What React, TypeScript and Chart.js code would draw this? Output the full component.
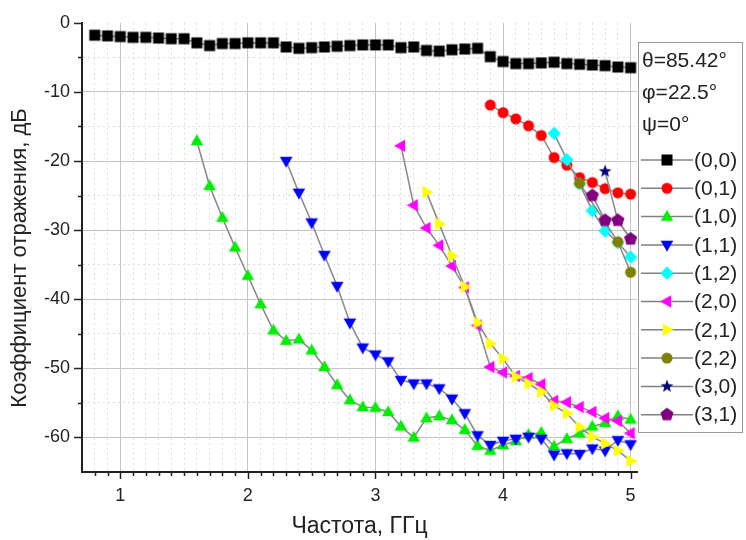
import React, { useEffect, useRef } from 'react';
import { Chart, registerables } from 'chart.js';
Chart.register(...registerables);

// ---------- data ----------
const f00 = [0.8, 0.9, 1.0, 1.1, 1.2, 1.3, 1.4, 1.5, 1.6, 1.7, 1.8, 1.9, 2.0, 2.1, 2.2, 2.3, 2.4, 2.5, 2.6, 2.7, 2.8, 2.9, 3.0, 3.1, 3.2, 3.3, 3.4, 3.5, 3.6, 3.7, 3.8, 3.9, 4.0, 4.1, 4.2, 4.3, 4.4, 4.5, 4.6, 4.7, 4.8, 4.9, 5.0];
const s00 = [-1.8, -1.9, -2.0, -2.1, -2.1, -2.2, -2.3, -2.3, -2.9, -3.3, -3.0, -3.0, -2.9, -2.9, -2.9, -3.5, -3.7, -3.6, -3.5, -3.4, -3.3, -3.2, -3.2, -3.2, -3.6, -3.5, -4.0, -4.1, -3.9, -3.8, -3.7, -4.9, -5.6, -5.9, -5.9, -5.8, -5.7, -5.9, -6.0, -6.1, -6.2, -6.4, -6.5];

const f01 = [3.9, 4.0, 4.1, 4.2, 4.3, 4.4, 4.5, 4.6, 4.7, 4.8, 4.9, 5.0];
const s01 = [-11.9, -13.0, -13.9, -14.9, -16.3, -19.5, -20.6, -22.4, -23.1, -24.0, -24.6, -24.8];

const f10 = [1.6, 1.7, 1.8, 1.9, 2.0, 2.1, 2.2, 2.3, 2.4, 2.5, 2.6, 2.7, 2.8, 2.9, 3.0, 3.1, 3.2, 3.3, 3.4, 3.5, 3.6, 3.7, 3.8, 3.9, 4.0, 4.1, 4.2, 4.3, 4.4, 4.5, 4.6, 4.7, 4.8, 4.9, 5.0];
const s10 = [-17.1, -23.6, -28.2, -32.5, -36.6, -40.7, -44.5, -46.0, -45.8, -47.4, -49.8, -52.4, -54.6, -55.6, -55.7, -56.3, -58.4, -60.0, -57.2, -56.9, -57.5, -58.9, -61.2, -61.9, -61.1, -60.5, -59.6, -59.3, -61.3, -60.2, -59.4, -58.4, -57.9, -56.9, -57.4];

const f11 = [2.3, 2.4, 2.5, 2.6, 2.7, 2.8, 2.9, 3.0, 3.1, 3.2, 3.3, 3.4, 3.5, 3.6, 3.7, 3.8, 3.9, 4.0, 4.1, 4.2, 4.3, 4.4, 4.5, 4.6, 4.7, 4.8, 4.9, 5.0];
const s11 = [-20.0, -24.6, -28.9, -33.6, -38.1, -43.4, -47.0, -48.0, -49.0, -51.7, -52.2, -52.2, -52.9, -54.4, -56.5, -59.7, -61.1, -60.5, -60.2, -59.9, -60.2, -62.5, -62.3, -62.4, -61.6, -61.9, -60.4, -61.0];

const f12 = [4.4, 4.5, 4.6, 4.7, 4.8, 4.9, 5.0];
const s12 = [-16.0, -19.8, -23.3, -27.2, -30.1, -31.8, -33.9];

const f20 = [3.2, 3.3, 3.4, 3.5, 3.6, 3.7, 3.8, 3.9, 4.0, 4.1, 4.2, 4.3, 4.4, 4.5, 4.6, 4.7, 4.8, 4.9, 5.0];
const s20 = [-17.8, -26.4, -29.7, -32.2, -35.2, -38.3, -43.8, -49.8, -50.6, -51.1, -51.4, -52.3, -54.7, -54.9, -55.6, -56.3, -57.2, -57.6, -59.4];

const f21 = [3.4, 3.5, 3.6, 3.7, 3.8, 3.9, 4.0, 4.1, 4.2, 4.3, 4.4, 4.5, 4.6, 4.7, 4.8, 4.9, 5.0];
const s21 = [-24.5, -29.1, -33.7, -38.2, -43.4, -46.4, -48.6, -51.2, -52.2, -53.4, -55.4, -56.5, -58.5, -59.9, -60.9, -61.9, -63.4];

const f22 = [4.6, 4.9, 5.0];
const s22 = [-23.2, -31.7, -36.1];

const f30 = [4.8, 4.9, 5.0];
const s30 = [-21.5, -28.6, -31.3];

const f31 = [4.7, 4.8, 4.9, 5.0];
const s31 = [-25.0, -28.6, -28.6, -31.3];

const seriesLabels = ['(0,0)', '(0,1)', '(1,0)', '(1,1)', '(1,2)', '(2,0)', '(2,1)', '(2,2)', '(3,0)', '(3,1)'];
const seriesColors = ['#000000', '#ff0000', '#00ee00', '#0000ff', '#00ffff', '#ff00ff', '#ffff00', '#808000', '#000080', '#800080'];
const seriesMarkers = ['square', 'circle', 'triUp', 'triDown', 'diamond', 'triLeft', 'triRight', 'circle', 'star', 'pentagon'];
const legendHeader = ['θ=85.42°', 'φ=22.5°', 'ψ=0°'];

const xMajorTicks = [1, 2, 3, 4, 5];
const yMajorTicks = [0, -10, -20, -30, -40, -50, -60];
const xTitle = 'Частота, ГГц';
const yTitle = 'Коэффициент отражения, дБ';

const FONT = '"Liberation Sans", Arial, sans-serif';

function poly(g: CanvasRenderingContext2D, cx: number, cy: number, n: number, r: number, rotDeg: number) {
  for (let k = 0; k < n; k++) {
    const a = ((rotDeg + (k * 360) / n) * Math.PI) / 180;
    const px = cx + r * Math.sin(a);
    const py = cy - r * Math.cos(a);
    if (k === 0) g.moveTo(px, py);
    else g.lineTo(px, py);
  }
  g.closePath();
}

function makeMarker(kind: string, color: string): HTMLCanvasElement {
  const c = document.createElement('canvas');
  c.width = 18;
  c.height = 18;
  const g = c.getContext('2d')!;
  g.fillStyle = color;
  const cx = 9, cy = 9;
  g.beginPath();
  switch (kind) {
    case 'square': g.rect(cx - 5.5, cy - 5.5, 11, 11); break;
    case 'circle': g.arc(cx, cy, 5.5, 0, Math.PI * 2); break;
    case 'triUp': poly(g, cx, cy + 0.5, 3, 7.3, 0); break;
    case 'triDown': poly(g, cx, cy - 0.5, 3, 7.3, 180); break;
    case 'triLeft': poly(g, cx + 0.5, cy, 3, 7.3, 270); break;
    case 'triRight': poly(g, cx - 0.5, cy, 3, 7.3, 90); break;
    case 'diamond': poly(g, cx, cy, 4, 6.7, 0); break;
    case 'pentagon': poly(g, cx, cy, 5, 6.9, 0); break;
    case 'star': {
      for (let k = 0; k < 10; k++) {
        const a = (k * 36 * Math.PI) / 180;
        const r = k % 2 === 0 ? 6.8 : 2.8;
        const px = cx + r * Math.sin(a);
        const py = cy - r * Math.cos(a);
        if (k === 0) g.moveTo(px, py); else g.lineTo(px, py);
      }
      g.closePath();
      break;
    }
  }
  g.fill();
  return c;
}

export default function App() {
  const ref = useRef<HTMLCanvasElement>(null);

  useEffect(() => {
    const canvas = ref.current!;
    const markers = seriesMarkers.map((m, i) => makeMarker(m, seriesColors[i]));
    const freqs = [f00, f01, f10, f11, f12, f20, f21, f22, f30, f31];
    const vals = [s00, s01, s10, s11, s12, s20, s21, s22, s30, s31];

    const datasets = seriesLabels.map((label, i) => ({
      label,
      data: freqs[i].map((f, j) => ({ x: f, y: vals[i][j] })),
      borderColor: '#8c8c8c',
      borderWidth: 1.6,
      pointStyle: markers[i] as any,
      pointRadius: 6,
      pointHoverRadius: 6,
      backgroundColor: seriesColors[i],
      tension: 0,
      order: -i,
    }));

    const isMajorX = (v: number) => Math.abs(v - Math.round(v)) < 1e-6;
    const isMajorY = (v: number) => Math.abs(v % 10) < 1e-6;

    const decor = {
      id: 'decor',
      afterDraw(chart: any) {
        const ctx: CanvasRenderingContext2D = chart.ctx;
        const xs = chart.scales.x;
        const ys = chart.scales.y;
        const { left, bottom } = chart.chartArea;
        ctx.save();
        ctx.strokeStyle = '#222';
        ctx.lineWidth = 1.5;
        // x tick marks
        for (let i = 8; i <= 50; i++) {
          const v = i / 10;
          const px = Math.round(xs.getPixelForValue(v)) + 0.5;
          const len = isMajorX(v) ? 7 : 4;
          ctx.beginPath();
          ctx.moveTo(px, bottom);
          ctx.lineTo(px, bottom + len);
          ctx.stroke();
        }
        // y tick marks
        for (let v = -60; v <= 0; v += 5) {
          const py = Math.round(ys.getPixelForValue(v)) + 0.5;
          const len = isMajorY(v) ? 8 : 4;
          ctx.beginPath();
          ctx.moveTo(left, py);
          ctx.lineTo(left - len, py);
          ctx.stroke();
        }
        // y axis title
        ctx.save();
        ctx.translate(20, 258);
        ctx.rotate(-Math.PI / 2);
        ctx.fillStyle = '#222';
        ctx.font = '22px ' + FONT;
        ctx.textAlign = 'center';
        ctx.textBaseline = 'middle';
        ctx.fillText(yTitle, 0, 0);
        ctx.restore();
        // legend
        const bx = 638, by = 42, bw = 104, bh = 390;
        ctx.fillStyle = '#ffffff';
        ctx.fillRect(bx, by, bw, bh);
        ctx.strokeStyle = '#9a9a9a';
        ctx.lineWidth = 1;
        ctx.strokeRect(bx + 0.5, by + 0.5, bw, bh);
        ctx.fillStyle = '#222';
        ctx.font = '21px ' + FONT;
        ctx.textBaseline = 'middle';
        ctx.textAlign = 'left';
        const hy = [61, 93, 125];
        legendHeader.forEach((t, i) => ctx.fillText(t, 642, hy[i]));
        seriesLabels.forEach((t, i) => {
          const y = 160 + i * 28.3;
          ctx.strokeStyle = '#808080';
          ctx.lineWidth = 1.5;
          ctx.beginPath();
          ctx.moveTo(641, y);
          ctx.lineTo(693, y);
          ctx.stroke();
          ctx.drawImage(markers[i], 667 - 9, y - 9);
          ctx.fillStyle = '#222';
          ctx.fillText(t, 694, y + 1);
        });
        ctx.restore();
      },
    };

    const chart = new Chart(canvas, {
      type: 'line',
      data: { datasets: datasets as any },
      plugins: [decor as any],
      options: {
        animation: false,
        responsive: false,
        devicePixelRatio: 1,
        layout: { padding: { top: 20, right: 109, bottom: 0, left: 0 } },
        plugins: {
          legend: { display: false },
          tooltip: { enabled: false },
        },
        scales: {
          x: {
            type: 'linear',
            min: 0.7,
            max: 5.05,
            afterBuildTicks: (scale: any) => {
              const t: any[] = [];
              for (let i = 7; i <= 50; i++) t.push({ value: i / 10 });
              scale.ticks = t;
            },
            afterFit: (scale: any) => { scale.height = 68; },
            ticks: {
              autoSkip: false,
              maxRotation: 0,
              minRotation: 0,
              padding: 13,
              color: '#222',
              font: { family: FONT, size: 18 },
              callback: (v: any) => {
                const n = Number(v);
                return xMajorTicks.some((m) => Math.abs(m - n) < 1e-6) ? String(Math.round(n)) : '';
              },
            },
            grid: {
              drawTicks: false,
              lineWidth: 1,
              color: (c: any) => {
                const v = c.tick ? c.tick.value : 0;
                if (v < 0.75) return 'rgba(0,0,0,0)';
                return isMajorX(v) ? '#c4c4c4' : '#dddddd';
              },
            },
            border: {
              display: true,
              color: '#222',
              width: 2,
              dash: (c: any) => {
                if (!c || c.type !== 'tick' || !c.tick) return [];
                return isMajorX(c.tick.value) ? [] : [2, 3];
              },
            } as any,
            title: {
              display: true,
              text: xTitle,
              color: '#222',
              font: { family: FONT, size: 23 },
              padding: { top: 0, bottom: 0 },
            },
          },
          y: {
            type: 'linear',
            min: -65,
            max: 0,
            afterBuildTicks: (scale: any) => {
              const t: any[] = [];
              for (let v = -65; v <= 0; v += 5) t.push({ value: v });
              scale.ticks = t;
            },
            afterFit: (scale: any) => { scale.width = 82; },
            ticks: {
              autoSkip: false,
              padding: 12,
              color: '#222',
              font: { family: FONT, size: 18 },
              callback: (v: any) => {
                const n = Number(v);
                return yMajorTicks.some((m) => Math.abs(m - n) < 1e-6) ? String(n) : '';
              },
            },
            grid: {
              drawTicks: false,
              lineWidth: 1,
              color: (c: any) => {
                const v = c.tick ? c.tick.value : 0;
                if (v > -0.5 || v < -64.5) return 'rgba(0,0,0,0)';
                return isMajorY(v) ? '#c4c4c4' : '#dddddd';
              },
            },
            border: {
              display: true,
              color: '#222',
              width: 2,
              dash: (c: any) => {
                if (!c || c.type !== 'tick' || !c.tick) return [];
                return isMajorY(c.tick.value) ? [] : [2, 3];
              },
            } as any,
            title: { display: false },
          },
        },
      } as any,
    });
    return () => chart.destroy();
  }, []);

  return (
    <div style={{ position: 'absolute', left: 0, top: 0, width: 746, height: 540, background: '#fff' }}>
      <canvas ref={ref} width={746} height={540} style={{ display: 'block' }} />
    </div>
  );
}
